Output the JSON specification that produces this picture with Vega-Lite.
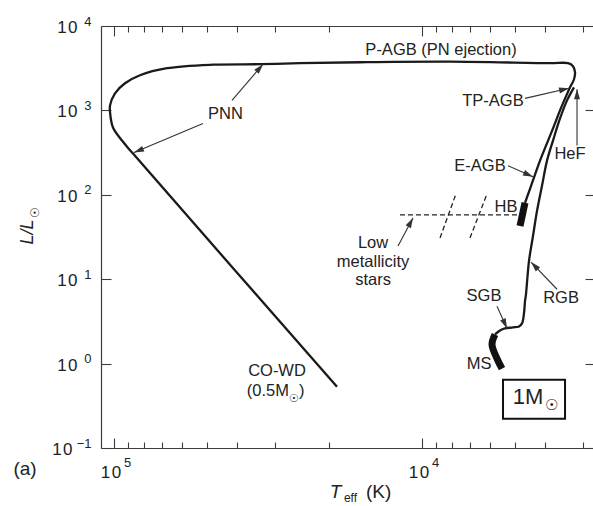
{
  "$schema": "https://vega.github.io/schema/vega-lite/v6.json",
  "width": 494,
  "height": 422,
  "autosize": {"type": "none"},
  "padding": {"left": 101, "top": 26, "right": 0, "bottom": 58},
  "background": "white",
  "config": {"view": {"stroke": null}, "text": {"font": "Liberation Sans", "color": "#222222"}},
  "datasets": {
    "tracks": [
      {"track": "rgb", "i": 0, "T": 5795, "L": 2.214},
      {"track": "rgb", "i": 1, "T": 5583, "L": 2.471},
      {"track": "rgb", "i": 2, "T": 5378, "L": 2.61},
      {"track": "rgb", "i": 3, "T": 5065, "L": 2.683},
      {"track": "rgb", "i": 4, "T": 4843, "L": 2.757},
      {"track": "rgb", "i": 5, "T": 4736, "L": 2.994},
      {"track": "rgb", "i": 6, "T": 4666, "L": 3.938},
      {"track": "rgb", "i": 7, "T": 4631, "L": 5.471},
      {"track": "rgb", "i": 8, "T": 4597, "L": 6.628},
      {"track": "rgb", "i": 9, "T": 4495, "L": 16.38},
      {"track": "rgb", "i": 10, "T": 4362, "L": 32.5},
      {"track": "rgb", "i": 11, "T": 4233, "L": 64.5},
      {"track": "rgb", "i": 12, "T": 4078, "L": 128},
      {"track": "rgb", "i": 13, "T": 3928, "L": 254},
      {"track": "rgb", "i": 14, "T": 3756, "L": 439},
      {"track": "rgb", "i": 15, "T": 3564, "L": 803},
      {"track": "rgb", "i": 16, "T": 3382, "L": 1315},
      {"track": "rgb", "i": 17, "T": 3210, "L": 1878},
      {"track": "agb", "i": 0, "T": 4631, "L": 80.3},
      {"track": "agb", "i": 1, "T": 4460, "L": 117.9},
      {"track": "agb", "i": 2, "T": 4297, "L": 173},
      {"track": "agb", "i": 3, "T": 4139, "L": 254},
      {"track": "agb", "i": 4, "T": 3957, "L": 383.1},
      {"track": "agb", "i": 5, "T": 3756, "L": 610.6},
      {"track": "agb", "i": 6, "T": 3564, "L": 1000},
      {"track": "agb", "i": 7, "T": 3408, "L": 1468},
      {"track": "agb", "i": 8, "T": 3307, "L": 1878},
      {"track": "agb", "i": 9, "T": 3210, "L": 2339},
      {"track": "agb", "i": 10, "T": 3186, "L": 2834},
      {"track": "agb", "i": 11, "T": 3234, "L": 3340},
      {"track": "agb", "i": 12, "T": 3357, "L": 3627},
      {"track": "agb", "i": 13, "T": 3841, "L": 3627},
      {"track": "agb", "i": 14, "T": 8111, "L": 3779},
      {"track": "agb", "i": 15, "T": 15085, "L": 3728},
      {"track": "agb", "i": 16, "T": 24890, "L": 3627},
      {"track": "agb", "i": 17, "T": 33570, "L": 3529},
      {"track": "agb", "i": 18, "T": 47700, "L": 3481},
      {"track": "agb", "i": 19, "T": 67280, "L": 3162},
      {"track": "agb", "i": 20, "T": 82340, "L": 2610},
      {"track": "agb", "i": 21, "T": 92110, "L": 2096},
      {"track": "agb", "i": 22, "T": 99250, "L": 1594},
      {"track": "agb", "i": 23, "T": 103000, "L": 1147},
      {"track": "agb", "i": 24, "T": 103000, "L": 946.6},
      {"track": "agb", "i": 25, "T": 100750, "L": 627.5},
      {"track": "agb", "i": 26, "T": 94200, "L": 439.4},
      {"track": "agb", "i": 27, "T": 86760, "L": 307.7},
      {"track": "agb", "i": 28, "T": 18880, "L": 0.5325}
    ],
    "thick": [
      {"track": "ms", "i": 0, "T": 5795, "L": 2.214},
      {"track": "ms", "i": 1, "T": 5926, "L": 1.684},
      {"track": "ms", "i": 2, "T": 5709, "L": 1.147},
      {"track": "ms", "i": 3, "T": 5499, "L": 0.872},
      {"track": "hb", "i": 0, "T": 4806, "L": 42.75},
      {"track": "hb", "i": 1, "T": 4631, "L": 80.3}
    ],
    "dashes": [
      {"T": 11790, "L": 57.8, "T2": 4843, "L2": 57.8},
      {"T": 8741, "L": 30.77, "T2": 7756, "L2": 102.8},
      {"T": 6986, "L": 30.77, "T2": 6151, "L2": 102.8}
    ],
    "arrows": [
      {"name": "PNN-up", "T": 41390, "L": 1315, "T2": 32820, "L2": 3529},
      {"name": "PNN-down", "T": 51410, "L": 700.2, "T2": 86110, "L2": 316.2},
      {"name": "TP-AGB", "T": 4631, "L": 1389, "T2": 3332, "L2": 1827},
      {"name": "HeF", "T": 3139, "L": 383.1, "T2": 3139, "L2": 1778},
      {"name": "E-AGB", "T": 5258, "L": 221.4, "T2": 4362, "L2": 163.8},
      {"name": "LowZ", "T": 11965, "L": 24.71, "T2": 10700, "L2": 53.24},
      {"name": "RGB", "T": 3645, "L": 7.603, "T2": 4427, "L2": 15.94},
      {"name": "SGB", "T": 5709, "L": 4.77, "T2": 5297, "L2": 2.61}
    ],
    "labels": [
      {"text": "P-AGB (PN ejection)", "T": 8676, "L": 5179},
      {"text": "PNN", "T": 43450, "L": 896},
      {"text": "TP-AGB", "T": 5882, "L": 1280},
      {"text": "HeF", "T": 3307, "L": 307.7},
      {"text": "E-AGB", "T": 6482, "L": 221.4},
      {"text": "HB", "T": 5337, "L": 71.97},
      {"text": "Low", "T": 14424, "L": 26.83},
      {"text": "metallicity", "T": 14424, "L": 15.94},
      {"text": "stars", "T": 14424, "L": 9.73},
      {"text": "SGB", "T": 6292, "L": 6.277},
      {"text": "RGB", "T": 3538, "L": 5.94},
      {"text": "MS", "T": 6530, "L": 1.0},
      {"text": "CO-WD", "T": 29570, "L": 0.8254}
    ]
  },
  "encoding": {
    "x": {"field": "T", "type": "quantitative", "scale": {"type": "log", "domain": [2744, 110210], "reverse": true, "nice": false}, "axis": null},
    "y": {"field": "L", "type": "quantitative", "scale": {"type": "log", "domain": [0.1, 10000], "nice": false}, "axis": null}
  },
  "layer": [
    {
      "data": {"name": "tracks"},
      "mark": {"type": "line", "interpolate": "catmull-rom", "strokeWidth": 2.3, "color": "#1a1a1a"},
      "encoding": {
        "x": {"field": "T", "type": "quantitative", "scale": {"type": "log", "domain": [2744, 110210], "reverse": true, "nice": false},
          "axis": {"orient": "bottom", "title": null, "grid": false,
            "values": [100000, 90000, 80000, 70000, 60000, 50000, 40000, 30000, 20000, 10000, 9000, 8000, 7000, 6000, 5000, 4000, 3000],
            "labelExpr": "datum.value == 100000 || datum.value == 10000 ? '1\u200a0' : ''",
            "tickSize": {"condition": {"test": "datum.value == 100000 || datum.value == 10000", "value": -10}, "value": -6},
            "labelPadding": 26, "labelOffset": -3.5, "labelFont": "Liberation Sans", "labelFontSize": 17, "labelColor": "#222222",
            "labelOverlap": false, "labelFlush": false, "labelBound": false,
            "domainColor": "#3c3c3c", "domainWidth": 1.2, "tickColor": "#3c3c3c", "tickWidth": 1.1}},
        "y": {"field": "L", "type": "quantitative", "scale": {"type": "log", "domain": [0.1, 10000], "nice": false},
          "axis": {"orient": "left", "title": null, "grid": false,
            "values": [0.1, 1, 10, 100, 1000, 10000],
            "labelExpr": "'1\u200a0'",
            "tickSize": -10,
            "labelPadding": {"condition": {"test": "datum.value < 0.5", "value": 39}, "value": 34},
            "labelOffset": 1.5, "labelFont": "Liberation Sans", "labelFontSize": 17, "labelColor": "#222222",
            "labelOverlap": false, "labelFlush": false, "labelBound": false,
            "domainColor": "#3c3c3c", "domainWidth": 1.2, "tickColor": "#3c3c3c", "tickWidth": 1.1}},
        "detail": {"field": "track"},
        "order": {"field": "i", "type": "quantitative"}
      }
    },
    {
      "data": {"name": "thick"},
      "mark": {"type": "line", "interpolate": "catmull-rom", "strokeWidth": 7, "strokeCap": "butt", "color": "#111111"},
      "encoding": {
        "x": {"field": "T", "type": "quantitative", "scale": {"type": "log", "domain": [2744, 110210], "reverse": true, "nice": false},
          "axis": {"orient": "top", "title": null, "grid": false, "labels": false,
            "values": [100000, 90000, 80000, 70000, 60000, 50000, 40000, 30000, 20000, 10000, 9000, 8000, 7000, 6000, 5000, 4000, 3000],
            "tickSize": {"condition": {"test": "datum.value == 100000 || datum.value == 10000", "value": -10}, "value": -6},
            "domainColor": "#3c3c3c", "domainWidth": 1.2, "tickColor": "#3c3c3c", "tickWidth": 1.1}},
        "y": {"field": "L", "type": "quantitative", "scale": {"type": "log", "domain": [0.1, 10000], "nice": false},
          "axis": {"orient": "right", "title": null, "grid": false, "labels": false,
            "values": [0.1, 1, 10, 100, 1000, 10000],
            "tickSize": -10,
            "domainColor": "#3c3c3c", "domainWidth": 1.2, "tickColor": "#3c3c3c", "tickWidth": 1.1}},
        "detail": {"field": "track"},
        "order": {"field": "i", "type": "quantitative"}
      }
    },
    {
      "data": {"name": "dashes"},
      "mark": {"type": "rule", "strokeWidth": 1.3, "strokeDash": [5, 3], "color": "#222222"},
      "encoding": {
        "x": {"field": "T", "type": "quantitative", "scale": {"type": "log", "domain": [2744, 110210], "reverse": true, "nice": false},
          "axis": {"orient": "bottom", "title": null, "grid": false, "domain": false, "ticks": false, "tickSize": 0,
            "values": [100000, 10000],
            "labelExpr": "datum.value == 100000 ? '5' : '4'",
            "labelPadding": 8, "labelOffset": 13, "labelFont": "Liberation Sans", "labelFontSize": 13, "labelColor": "#222222",
            "labelOverlap": false, "labelFlush": false, "labelBound": false}},
        "y": {"field": "L", "type": "quantitative", "scale": {"type": "log", "domain": [0.1, 10000], "nice": false},
          "axis": {"orient": "left", "title": null, "grid": false, "domain": false, "ticks": false, "tickSize": 0,
            "values": [0.1, 1, 10, 100, 1000, 10000],
            "labelExpr": "datum.value > 5000 ? '4' : datum.value > 500 ? '3' : datum.value > 50 ? '2' : datum.value > 5 ? '1' : datum.value > 0.5 ? '0' : '\u22121'",
            "labelAlign": "right", "labelPadding": 10, "labelOffset": -5, "labelFont": "Liberation Sans", "labelFontSize": 13, "labelColor": "#222222",
            "labelOverlap": false, "labelFlush": false, "labelBound": false}},
        "x2": {"field": "T2"},
        "y2": {"field": "L2"}
      }
    },
    {
      "data": {"name": "arrows"},
      "mark": {"type": "rule", "strokeWidth": 1.1, "color": "#333333"},
      "encoding": {
        "x2": {"field": "T2"},
        "y2": {"field": "L2"}
      }
    },
    {
      "data": {"name": "arrows"},
      "mark": {"type": "point", "shape": "M0,0L0.3,1L-0.3,1Z", "filled": true, "size": 400, "opacity": 1, "color": "#333333", "strokeWidth": 0},
      "encoding": {
        "x": {"field": "T2", "type": "quantitative", "scale": {"type": "log", "domain": [2744, 110210], "reverse": true, "nice": false}, "axis": null},
        "y": {"field": "L2", "type": "quantitative", "scale": {"type": "log", "domain": [0.1, 10000], "nice": false}, "axis": null},
        "angle": {"value": {"expr": "atan2(scale('x', datum.T2) - scale('x', datum.T), scale('y', datum.L) - scale('y', datum.L2)) * 180 / PI"}}
      }
    },
    {
      "data": {"values": [{"T": 5458, "L": 0.6451, "T2": 3433, "L2": 0.2215}]},
      "mark": {"type": "rect", "fill": null, "fillOpacity": 0, "stroke": "#111111", "strokeWidth": 2},
      "encoding": {
        "x2": {"field": "T2"},
        "y2": {"field": "L2"}
      }
    },
    {
      "data": {"name": "labels"},
      "mark": {"type": "text", "fontSize": 16.5, "align": "center", "baseline": "middle"},
      "encoding": {"text": {"field": "text"}}
    },
    {
      "data": {"values": [{"text": "(0.5M", "T": 27030, "L": 0.4771}]},
      "mark": {"type": "text", "fontSize": 16.5, "align": "right", "baseline": "middle"},
      "encoding": {"text": {"field": "text"}}
    },
    {
      "data": {"values": [{"text": ")", "T": 25080, "L": 0.4771}]},
      "mark": {"type": "text", "fontSize": 16.5, "align": "left", "baseline": "middle"},
      "encoding": {"text": {"field": "text"}}
    },
    {
      "data": {"values": [{"text": "☉", "T": 26040, "L": 0.3831}]},
      "mark": {"type": "text", "fontSize": 11, "align": "center", "baseline": "middle"},
      "encoding": {"text": {"field": "text"}}
    },
    {
      "data": {"values": [{"text": "1M", "T": 4527, "L": 0.4047}]},
      "mark": {"type": "text", "fontSize": 22, "align": "center", "baseline": "middle"},
      "encoding": {"text": {"field": "text"}}
    },
    {
      "data": {"values": [{"text": "☉", "T": 3812, "L": 0.325}]},
      "mark": {"type": "text", "fontSize": 15, "align": "center", "baseline": "middle"},
      "encoding": {"text": {"field": "text"}}
    },
    {
      "data": {"values": [{"text": "(a)", "T": 194500, "L": 0.05623}, {"text": "(K)", "T": 13840, "L": 0.03011}]},
      "mark": {"type": "text", "fontSize": 19, "align": "center", "baseline": "middle"},
      "encoding": {"text": {"field": "text"}}
    },
    {
      "data": {"values": [{"text": "T", "T": 19090, "L": 0.03011}]},
      "mark": {"type": "text", "fontSize": 19, "fontStyle": "italic", "align": "center", "baseline": "middle"},
      "encoding": {"text": {"field": "text"}}
    },
    {
      "data": {"values": [{"text": "eff", "T": 17070, "L": 0.02556}]},
      "mark": {"type": "text", "fontSize": 12, "align": "center", "baseline": "middle"},
      "encoding": {"text": {"field": "text"}}
    },
    {
      "data": {"values": [{"text": "L/L", "T": 189600, "L": 36.27}]},
      "mark": {"type": "text", "fontSize": 18, "fontStyle": "italic", "angle": 270, "align": "center", "baseline": "middle"},
      "encoding": {"text": {"field": "text"}}
    },
    {
      "data": {"values": [{"text": "☉", "T": 180500, "L": 61.06}]},
      "mark": {"type": "text", "fontSize": 12, "angle": 270, "align": "center", "baseline": "middle"},
      "encoding": {"text": {"field": "text"}}
    }
  ],
  "resolve": {"axis": {"x": "independent", "y": "independent"}}
}
